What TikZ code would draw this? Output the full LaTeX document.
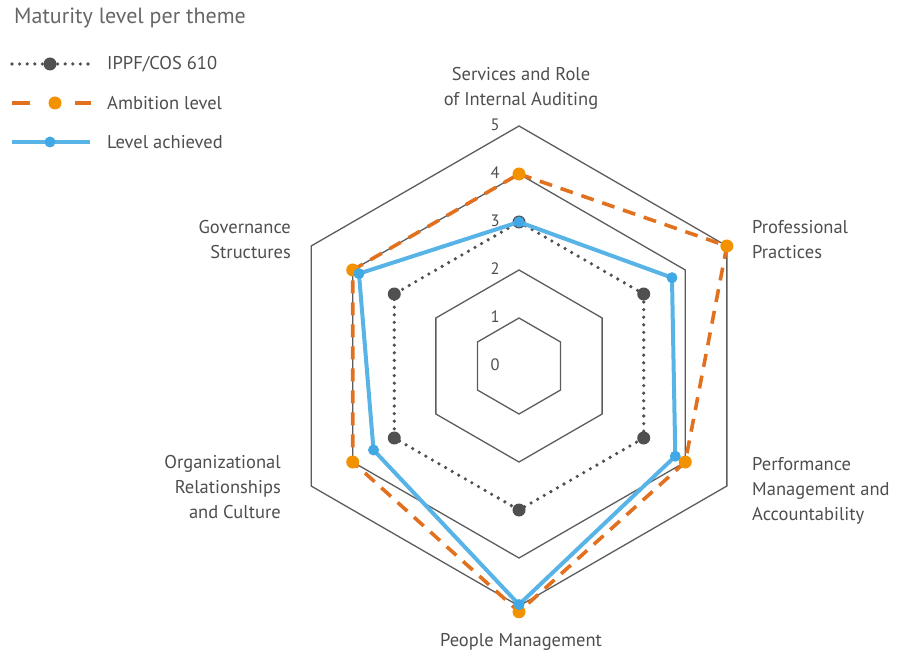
\documentclass[tikz,border=0pt]{standalone}
\usepackage{fontspec}
\setmainfont{PT Sans}
\usetikzlibrary{calc}
\definecolor{txt}{HTML}{4E4E4E}
\definecolor{ttl}{HTML}{666666}
\definecolor{gridc}{HTML}{5C5C5C}
\definecolor{ippf}{HTML}{505050}
\definecolor{amb}{HTML}{E2711F}
\definecolor{ambdot}{HTML}{F39200}
\definecolor{ach}{HTML}{58B4E6}
\definecolor{achdot}{HTML}{40A8E4}
\begin{document}
\begin{tikzpicture}[x=1pt,y=1pt,
  gridline/.style={draw=gridc,line width=1.3pt,line join=miter},
  ippfline/.style={draw=ippf,line width=3.6pt,line cap=round,dash pattern=on 0pt off 7.6pt},
  ambline/.style={draw=amb,line width=3.6pt,dash pattern=on 13pt off 9pt},
  achline/.style={draw=ach,line width=4pt,line join=round},
  ippfdot/.style={circle,fill=ippf,inner sep=0pt,minimum size=13pt},
  ambdotst/.style={circle,fill=ambdot,inner sep=0pt,minimum size=13pt},
  achdotst/.style={circle,fill=achdot,inner sep=0pt,minimum size=11pt},
  axlabel/.style={text=txt,font=\fontsize{18.5}{25}\selectfont,inner sep=0pt},
  numlabel/.style={text=txt,font=\fontsize{16.5}{18}\selectfont,inner sep=0pt},
  legtext/.style={text=txt,font=\fontsize{18.5}{20}\selectfont,inner sep=0pt,anchor=west},
]
\useasboundingbox (0,0) rectangle (907,657);
\coordinate (C) at (519,291);

% grid hexagons
\foreach \l in {1,2,4,5}{
  \draw[gridline] ($(C)+(90:\l*48)$) -- ($(C)+(30:\l*48)$) -- ($(C)+(-30:\l*48)$)
     -- ($(C)+(-90:\l*48)$) -- ($(C)+(-150:\l*48)$) -- ($(C)+(150:\l*48)$) -- cycle;
}

% data points
\foreach \k/\a/\am/\ac in {1/90/4/3, 2/30/5/3.68, 3/-30/4/3.76, 4/-90/5.12/4.97, 5/-150/4/3.5, 6/150/4/3.85}{
  \coordinate (ip\k) at ($(C)+(\a:3*48)$);
  \coordinate (am\k) at ($(C)+(\a:\am*48)$);
  \coordinate (ac\k) at ($(C)+(\a:\ac*48)$);
}

\draw[ippfline] (ip1) -- (ip2) -- (ip3) -- (ip4) -- (ip5) -- (ip6) -- cycle;
\foreach \k in {1,...,6}{ \node[ippfdot] (ipd\k) at (ip\k) {}; }
\draw[achline] (ac1) -- (ac2) -- (ac3) -- (ac4) -- (ac5) -- (ac6) -- cycle;
\draw[ambline] (am1) -- (am2) -- (am3) -- (am4) -- (am5) -- (am6) -- cycle;
\foreach \k in {1,...,6}{ \node[ambdotst] (amd\k) at (am\k) {}; }
\foreach \k in {1,...,6}{ \node[achdotst] (acd\k) at (ac\k) {}; }

% level numbers
\foreach \l in {0,...,5}{
  \node[numlabel] (n\l) at (495,{291+\l*48+1}) {\l};
}

% axis labels
\node[axlabel,align=center] (t1) at (521,569) {Services and Role\\of Internal Auditing};
\node[axlabel,align=left,anchor=west] (t2) at (752,417) {Professional\\Practices};
\node[axlabel,align=left,anchor=west] (t3) at (752,166) {Performance\\Management and\\Accountability};
\node[axlabel,align=center] (t4) at (521,15) {People Management};
\node[axlabel,align=right,anchor=east] (t5) at (281,170) {Organizational\\Relationships\\and Culture};
\node[axlabel,align=right,anchor=east] (t6) at (291,417) {Governance\\Structures};

% legend
\node[text=ttl,font=\fontsize{22}{24}\selectfont,inner sep=0pt,anchor=west] (title) at (14,639) {Maturity level per theme};

\coordinate (l1a) at (12,593); \coordinate (l1b) at (92,593);
\draw[ippfline] (l1a) -- (l1b);
\node[ippfdot] (l1d) at (50,593) {};
\node[legtext] (l1t) at (107,593) {IPPF/COS 610};

\coordinate (l2a) at (12,554); \coordinate (l2b) at (91,554);
\draw[draw=amb,line width=4pt,dash pattern=on 18pt off 45pt] (l2a) -- (l2b);
\node[ambdotst] (l2d) at (55,554) {};
\node[legtext] (l2t) at (107,554) {Ambition level};

\coordinate (l3a) at (12,515); \coordinate (l3b) at (90,515);
\draw[achline] (l3a) -- (l3b);
\node[achdotst] (l3d) at (50,515) {};
\node[legtext] (l3t) at (107,515) {Level achieved};
\end{tikzpicture}
\end{document}
